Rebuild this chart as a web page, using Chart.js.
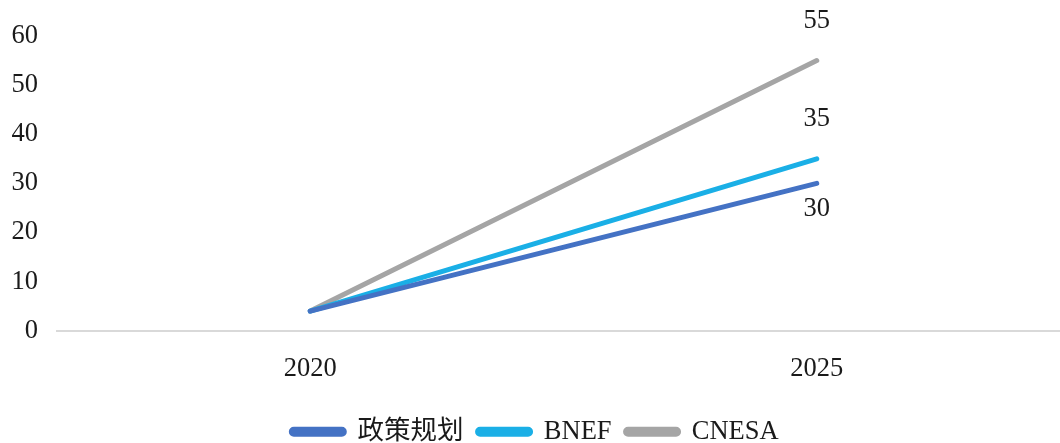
<!DOCTYPE html>
<html>
<head>
<meta charset="utf-8">
<script src="https://cdn.jsdelivr.net/npm/chart.js@4/dist/chart.umd.min.js"></script>
<style>
  html, body { margin: 0; padding: 0; background: #fff; overflow: hidden; }
  #wrap { width: 1060px; height: 443px; overflow: hidden; }
</style>
</head>
<body>
<div id="wrap"><canvas id="chart" width="1072" height="455"></canvas></div>
<script>
const years = ['2020', '2025'];
const policy = [4, 30];
const bnef = [4, 35];
const cnesa = [4, 55];
const yTicks = [0, 10, 20, 30, 40, 50, 60];

const serif = '"Liberation Serif", "Times New Roman", "Noto Sans CJK SC", serif';
const fs = 26.5;

// value labels at the 2025 end of each line
const endLabels = {
    id: 'endLabels',
    afterDatasetsDraw(chart) {
        const ctx = chart.ctx;
        ctx.save();
        ctx.font = fs + 'px ' + serif;
        ctx.fillStyle = '#1a1a1a';
        ctx.textAlign = 'center';
        ctx.textBaseline = 'middle';
        chart.data.datasets.forEach((ds, i) => {
            const meta = chart.getDatasetMeta(i);
            const last = meta.data[meta.data.length - 1];
            const dy = ds.labelBelow ? 26 : -40;
            ctx.fillText(ds.data[ds.data.length - 1], last.x, last.y + dy);
        });
        ctx.restore();
    }
};

new Chart(document.getElementById('chart'), {
    type: 'line',
    data: {
        labels: years,
        datasets: [
            { label: '政策规划', data: policy, borderColor: '#4472C4', backgroundColor: '#4472C4', labelBelow: true },
            { label: 'BNEF', data: bnef, borderColor: '#1AAFE6', backgroundColor: '#1AAFE6' },
            { label: 'CNESA', data: cnesa, borderColor: '#A5A5A5', backgroundColor: '#A5A5A5' }
        ]
    },
    options: {
        responsive: false,
        animation: false,
        layout: { padding: { top: 36, right: 2, left: 0, bottom: 0 } },
        elements: {
            line: { borderWidth: 5, borderCapStyle: 'round', tension: 0 },
            point: { radius: 0, hoverRadius: 0 }
        },
        scales: {
            x: {
                offset: true,
                grid: { display: false },
                border: { color: '#d9d9d9', width: 2 },
                afterFit: axis => { axis.height += 6; },
                ticks: { color: '#1a1a1a', font: { family: serif, size: fs }, padding: 14 }
            },
            y: {
                min: 0,
                max: 60,
                afterBuildTicks: axis => { axis.ticks = yTicks.map(v => ({ value: v })); },
                afterFit: axis => { axis.width = 57; },
                grid: { display: false },
                border: { display: false },
                ticks: { color: '#1a1a1a', font: { family: serif, size: fs }, padding: 11 }
            }
        },
        plugins: {
            tooltip: { enabled: false },
            legend: {
                position: 'bottom',
                labels: {
                    color: '#1a1a1a',
                    font: { family: serif, size: fs },
                    boxWidth: 53,
                    boxHeight: 5,
                    useBorderRadius: true,
                    borderRadius: 2.5,
                    padding: 14
                }
            }
        }
    },
    plugins: [endLabels]
});
</script>
</body>
</html>
